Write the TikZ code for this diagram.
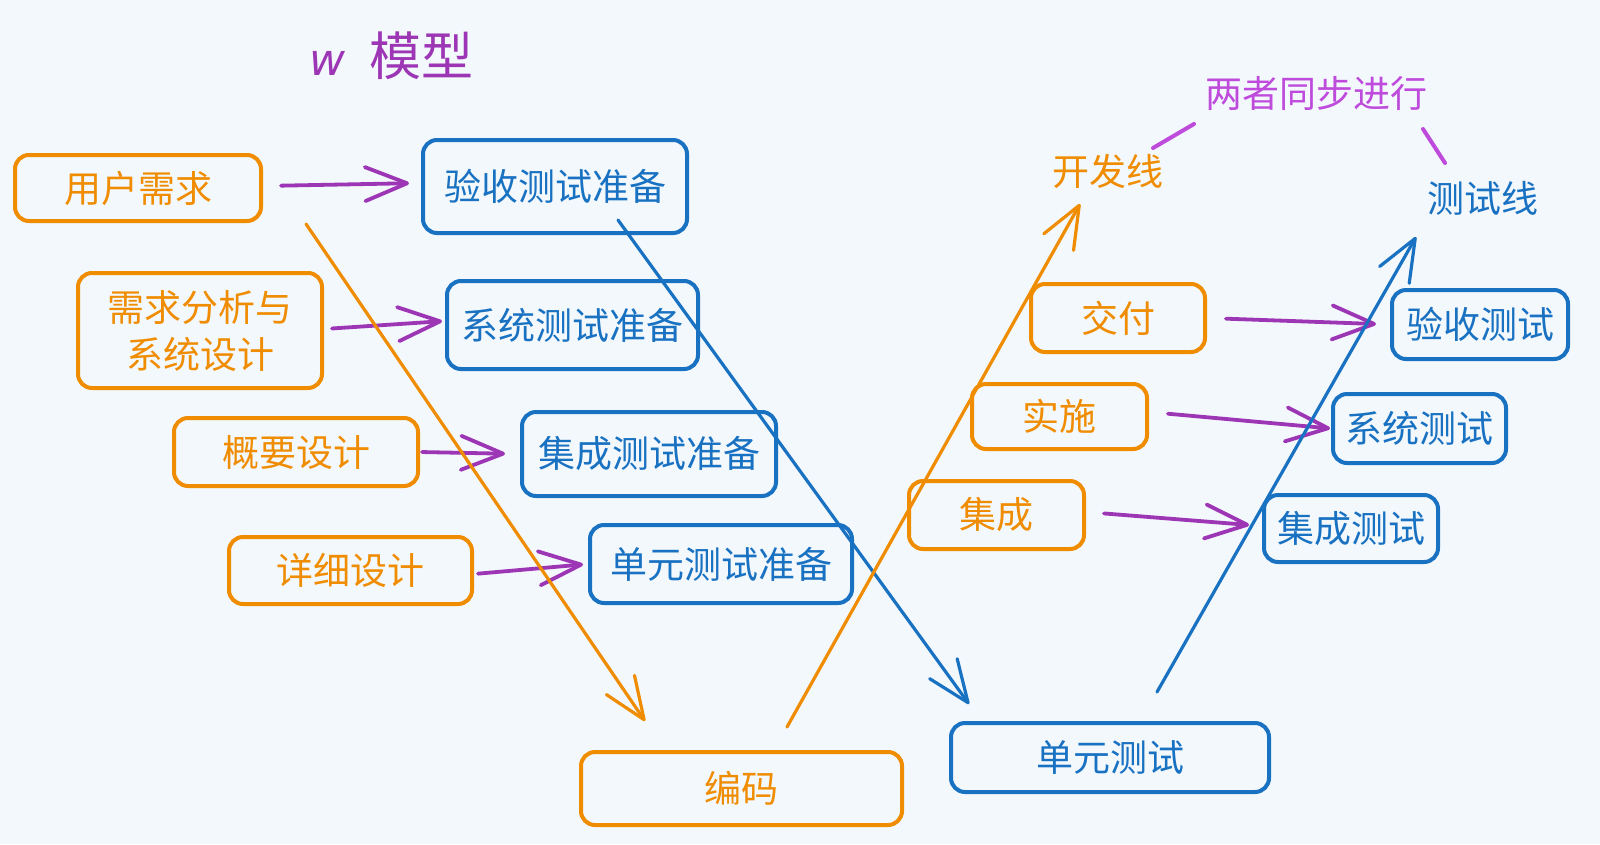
\documentclass[tikz,border=0pt]{standalone}
\usepackage{fontspec}
\setmainfont{Noto Sans CJK SC}
\newfontfamily\latinfont{DejaVu Sans}
\usetikzlibrary{arrows.meta}
\definecolor{bg}{HTML}{F3F8FD}
\definecolor{orng}{HTML}{F08C00}
\definecolor{blu}{HTML}{1971C2}
\definecolor{grp}{HTML}{9C36B5}
\definecolor{lgrp}{HTML}{BE4BDB}
\begin{document}
\begin{tikzpicture}[x=1pt,y=-1pt,
  box/.style={draw, line width=4pt, rounded corners=14pt, inner sep=0pt, align=center,
    font=\fontsize{37}{47}\selectfont},
  obox/.style={box, draw=orng, text=orng},
  bbox/.style={box, draw=blu, text=blu},
  tip/.style={-{Straight Barb[length=42pt,width=34pt,round]}},
  parrow/.style={draw=grp, line width=3.8pt, line cap=round, tip},
  oline/.style={draw=orng, line width=3.2pt, line cap=round, tip},
  bline/.style={draw=blu, line width=3.2pt, line cap=round, tip},
  lbl/.style={font=\fontsize{37}{42}\selectfont, inner sep=0pt},
  link/.style={draw=lgrp, line width=4pt, line cap=round}
]
\fill[bg] (0,0) rectangle (1600,844);
\useasboundingbox (0,0) rectangle (1600,844);

% title
\node[lbl, text=grp, font=\fontsize{52}{56}\selectfont, anchor=west] (title) at (309,56)
  {{\latinfont\itshape\fontsize{44}{50}\selectfont w}\hspace{24pt}模型};

% left boxes (development)
\node[obox, minimum width=246pt, minimum height=66pt] (req) at (138,188) {用户需求};
\node[obox, minimum width=244pt, minimum height=115pt] (ana) at (200,330.5) {需求分析与\\系统设计};
\node[obox, minimum width=244pt, minimum height=68pt] (hl) at (296,452) {概要设计};
\node[obox, minimum width=243pt, minimum height=67pt] (dd) at (350.5,570.5) {详细设计};

% test preparation boxes
\node[bbox, minimum width=264pt, minimum height=93pt] (accp) at (555,186.5) {验收测试准备};
\node[bbox, minimum width=251pt, minimum height=88pt] (sysp) at (572.5,325) {系统测试准备};
\node[bbox, minimum width=254pt, minimum height=84pt] (intp) at (649,454) {集成测试准备};
\node[bbox, minimum width=262pt, minimum height=78pt] (unitp) at (721,564) {单元测试准备};

% bottom
\node[obox, minimum width=321pt, minimum height=73pt] (code) at (741.5,788.5) {编码};
\node[bbox, minimum width=318pt, minimum height=69pt] (unit) at (1110,757.5) {单元测试};

% right side
\node[obox, minimum width=174pt, minimum height=68pt] (deliv) at (1118,318) {交付};
\node[obox, minimum width=175pt, minimum height=65pt] (impl) at (1059.5,416.5) {实施};
\node[obox, minimum width=175pt, minimum height=68pt] (integ) at (996.5,515) {集成};
\node[bbox, minimum width=176pt, minimum height=69pt] (acc) at (1480,324.5) {验收测试};
\node[bbox, minimum width=173pt, minimum height=69pt] (sys) at (1419.5,428.5) {系统测试};
\node[bbox, minimum width=174pt, minimum height=67pt] (int) at (1351,528.5) {集成测试};

% labels
\node[lbl, text=orng] (devline) at (1108,171) {开发线};
\node[lbl, text=blu] (testline) at (1483,198) {测试线};
\node[lbl, text=lgrp] (sync) at (1316,93) {两者同步进行};
\coordinate (s1) at (1153,148); \coordinate (s2) at (1194,124);
\coordinate (t1) at (1423,129); \coordinate (t2) at (1445,163);
\draw[link] (s1) -- (s2);
\draw[link] (t1) -- (t2);

% purple arrows
\draw[parrow, shorten <=18pt, shorten >=12pt] ([yshift=2pt]req.east) -- ([yshift=3.5pt]accp.west);
\draw[parrow, shorten <=8pt, shorten >=3pt] ([yshift=1.5pt]ana.east) -- ([yshift=4pt]sysp.west);
\draw[parrow, shorten <=2pt, shorten >=15pt] (hl.east) -- (intp.west);
\draw[parrow, shorten <=4pt, shorten >=5pt] ([yshift=-3.5pt]dd.east) -- (unitp.west);
\draw[parrow, shorten <=19pt, shorten >=14pt] (deliv.east) -- (acc.west);
\draw[parrow, shorten <=19pt, shorten >=1pt] ([yshift=4.5pt]impl.east) -- (sys.west);
\draw[parrow, shorten <=18pt, shorten >=13pt] ([yshift=3pt]integ.east) -- ([yshift=2.5pt]int.west);

% long diagonals
\coordinate (od1) at (306,224); \coordinate (od2) at (645,721);
\coordinate (bd1) at (618,220); \coordinate (bd2) at (969,704);
\coordinate (ou1) at (787,727); \coordinate (ou2) at (1080,204);
\coordinate (bu1) at (1157,692); \coordinate (bu2) at (1416,237);
\draw[oline] (od1) -- (od2);
\draw[bline] (bd1) -- (bd2);
\draw[oline] (ou1) -- (ou2);
\draw[bline] (bu1) -- (bu2);
\end{tikzpicture}
\end{document}
